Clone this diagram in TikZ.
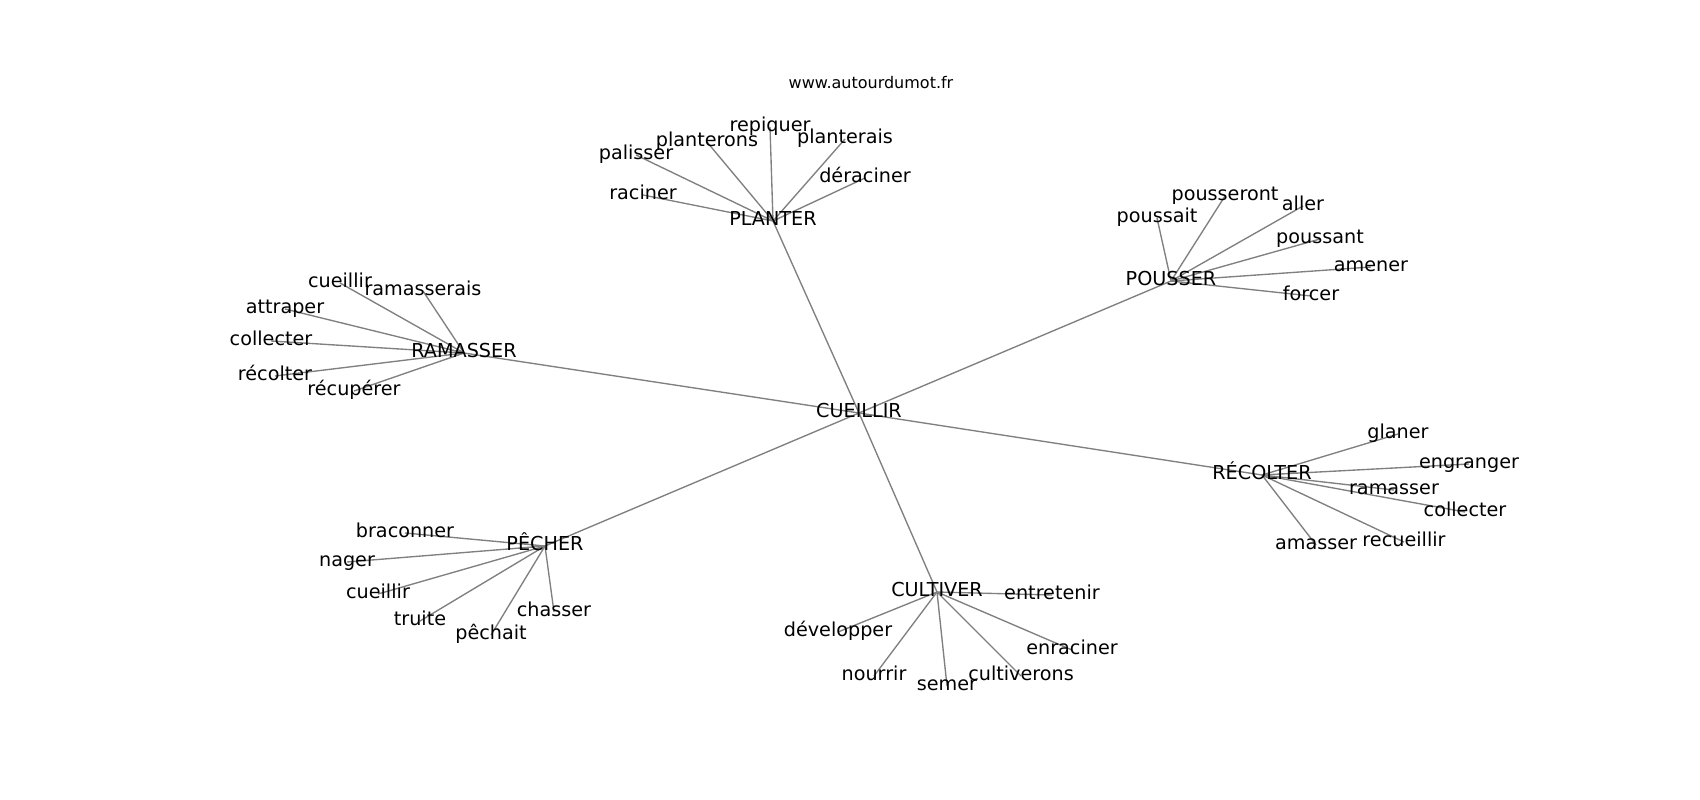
\documentclass[tikz,border=0pt]{standalone}
\usepackage{fontspec}
\setmainfont{DejaVu Sans}
\usetikzlibrary{positioning,backgrounds}

\tikzset{
    word/.style={inner sep=0pt,text height=0.76em,text depth=0.21em,font=\fontsize{12}{14}\selectfont},
    link/.style={draw=black!50,line width=0.85pt},
}

\begin{document}
\begin{tikzpicture}[x=0.625pt,y=-0.625pt]
    \useasboundingbox (0,0) rectangle (1700,800);
    \node[font=\fontsize{10}{12}\selectfont] (site) at (871,83) {www.autourdumot.fr};

    \begin{scope}[shift={(0,3)}]
    % centre and the six groups
    \node[word] (cueillir) at (859,410) {CUEILLIR};
    \node[word] (planter) at (773,218) {PLANTER};
    \node[word] (pousser) at (1171,278) {POUSSER};
    \node[word] (ramasser) at (464,350) {RAMASSER};
    \node[word] (recolter) at (1262,472) {RÉCOLTER};
    \node[word] (pecher) at (545,543) {PÊCHER};
    \node[word] (cultiver) at (937,589) {CULTIVER};

    \begin{scope}[on background layer]
        \foreach \hub in {planter,pousser,ramasser,recolter,pecher,cultiver}
        {
            \draw[link] (cueillir.center) -- (\hub.center);
        };
    \end{scope}

    % leaves of each group
    \foreach \hub/\leaves in {
        planter/{pla1/770/124/repiquer,pla2/707/139/planterons,pla3/845/136/planterais,pla4/636/152/palisser,pla5/865/175/déraciner,pla6/643/192/raciner},
        pousser/{pou1/1225/193/pousseront,pou2/1303/203/aller,pou3/1157/215/poussait,pou4/1320/236/poussant,pou5/1371/264/amener,pou6/1311/293/forcer},
        ramasser/{ram1/340/280/cueillir,ram2/423/288/ramasserais,ram3/285/306/attraper,ram4/271/338/collecter,ram5/275/373/récolter,ram6/354/388/récupérer},
        recolter/{rec1/1398/431/glaner,rec2/1469/461/engranger,rec3/1394/487/ramasser,rec4/1465/509/collecter,rec5/1316/542/amasser,rec6/1404/539/recueillir},
        pecher/{pec1/405/530/braconner,pec2/347/559/nager,pec3/378/591/cueillir,pec4/420/618/truite,pec5/491/632/pêchait,pec6/554/609/chasser},
        cultiver/{cul1/1052/592/entretenir,cul2/838/629/développer,cul3/1072/647/enraciner,cul4/874/673/nourrir,cul5/947/683/semer,cul6/1021/673/cultiverons}}
    {
        \foreach \n/\x/\y/\txt in \leaves
        {
            \node[word] (\n) at (\x,\y) {\txt};
            \begin{scope}[on background layer]
                \draw[link] (\hub.center) -- (\n.center);
            \end{scope}
        };
    };
    \end{scope}

\end{tikzpicture}
\end{document}
